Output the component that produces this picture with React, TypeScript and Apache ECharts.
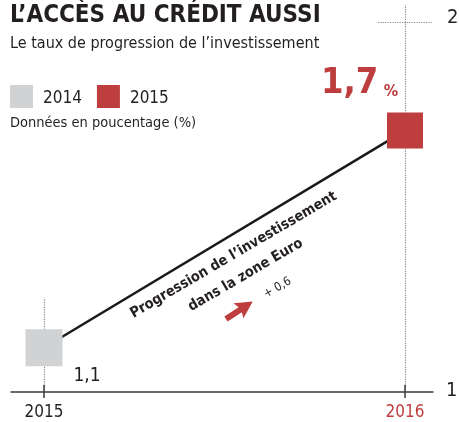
import React, { useEffect, useRef } from "react";
import * as echarts from "echarts";

const years = [2015, 2016];
const values = [1.1, 1.7];
const legendNames = ["2014", "2015"];
const yTicks = [1, 2];
const title = "L\u2019ACCÈS AU CRÉDIT AUSSI";
const subtitle = "Le taux de progression de l\u2019investissement";
const unitNote = "Données en poucentage (%)";
const annotLine1 = "Progression de l\u2019investissement";
const annotLine2 = "dans la zone Euro";
const changeLabel = "+ 0,6";

const FONT = "'Liberation Sans Narrow', 'DejaVu Sans Condensed', 'Roboto', sans-serif";
const RED = "#be3e3f";
const GRAY = "#d1d2d4";
const DARK = "#231f20";

const X_MIN = 2014.9086;
const X_MAX = 2016.0776;
const Y_MIN = 0.9776;
const Y_MAX = 2.047;

const fmt = (v: number) => v.toFixed(1).replace(".", ",");

export default function App() {
  const ref = useRef<HTMLDivElement>(null);
  useEffect(() => {
    if (!ref.current) return;
    const chart = echarts.init(ref.current, undefined, { renderer: "svg" });
    const dotted = { color: "#8a8a8a", type: "dotted", width: 1.2 } as any;
    const solid = { color: "#3a3a3a", type: "solid", width: 1.5 } as any;
    chart.setOption({
      animation: false,
      textStyle: { fontFamily: FONT },
      title: [
        {
          text: title,
          left: 10,
          top: 2,
          padding: 0,
          textStyle: { fontFamily: FONT, fontSize: 24, fontWeight: "bold", color: DARK },
        },
        {
          text: subtitle,
          left: 10,
          top: 34,
          padding: 0,
          textStyle: { fontFamily: FONT, fontSize: 16, fontWeight: "normal", color: DARK },
        },
        {
          text: unitNote,
          left: 10,
          top: 114,
          padding: 0,
          textStyle: { fontFamily: FONT, fontSize: 14.5, fontWeight: "normal", color: DARK },
        },
      ],
      legend: {
        data: legendNames,
        left: 10,
        top: 85,
        padding: 0,
        icon: "rect",
        itemWidth: 23,
        itemHeight: 23,
        itemGap: 15,
        textStyle: { fontFamily: FONT, fontSize: 17, color: DARK, padding: [2, 0, 0, 5] },
      },
      grid: { left: 11, right: 26, top: 5, bottom: 30, outerBoundsMode: "none", containLabel: false },
      xAxis: {
        type: "value",
        min: X_MIN,
        max: X_MAX,
        splitLine: { show: false },
        axisLine: { lineStyle: { color: "#3a3a3a", width: 1.5 } },
        axisTick: { customValues: years, length: 6, lineStyle: { color: "#3a3a3a", width: 1.5 } },
        axisLabel: {
          customValues: years,
          margin: 10,
          formatter: (v: number) => (v === years[years.length - 1] ? `{r|${v}}` : `{d|${v}}`),
          rich: {
            r: { fontFamily: FONT, fontSize: 17, color: RED },
            d: { fontFamily: FONT, fontSize: 17, color: DARK },
          },
        },
      },
      yAxis: {
        type: "value",
        position: "right",
        min: Y_MIN,
        max: Y_MAX,
        axisLine: { show: false },
        axisTick: { show: false },
        splitLine: { show: false },
        axisLabel: {
          customValues: yTicks,
          margin: 13,
          formatter: (v: number) => (v === yTicks[1] ? `{t|${v}}` : `{b|${v}}`),
          rich: {
            t: { fontFamily: FONT, fontSize: 20, color: DARK, padding: [0, 0, 12, 1] },
            b: { fontFamily: FONT, fontSize: 20, color: DARK, padding: [10, 0, 0, 0] },
          },
        },
      },
      series: [
        {
          type: "line",
          data: years.map((y, i) => [y, values[i]]),
          symbol: "none",
          lineStyle: { color: "#1a1a1a", width: 2.5 },
          z: 1,
          markLine: {
            silent: true,
            z: 1,
            symbol: ["none", "none"],
            label: { show: false },
            data: [
              [{ coord: [years[1], Y_MIN], lineStyle: dotted }, { coord: [years[1], Y_MAX] }],
              [{ coord: [years[0], Y_MIN], lineStyle: dotted }, { coord: [years[0], 1.237] }],
              [{ coord: [2015.925, yTicks[1]], lineStyle: dotted }, { coord: [2016.075, yTicks[1]] }],
              [{ coord: [years[0], Y_MIN], lineStyle: solid }, { coord: [years[0], 0.997] }],
              [{ coord: [years[1], Y_MIN], lineStyle: solid }, { coord: [years[1], 0.997] }],
            ],
          },
        },
        {
          type: "scatter",
          name: legendNames[0],
          data: [[years[0], values[0]]],
          symbol: "rect",
          symbolSize: 37,
          itemStyle: { color: GRAY, opacity: 1 },
          z: 3,
          label: {
            show: true,
            position: [48, 35],
            formatter: (p: any) => fmt(p.value[1]),
            fontFamily: FONT,
            fontSize: 19,
            color: DARK,
          },
        },
        {
          type: "scatter",
          name: legendNames[1],
          data: [[years[1], values[1]]],
          symbol: "rect",
          symbolSize: 36,
          itemStyle: { color: RED, opacity: 1 },
          z: 3,
          label: {
            show: true,
            position: [-66, -50],
            formatter: (p: any) => `{a|${fmt(p.value[1])}} {b|%}`,
            rich: {
              a: { fontFamily: FONT, fontSize: 36, fontWeight: "bold", color: RED, verticalAlign: "bottom" },
              b: { fontFamily: FONT, fontSize: 16, fontWeight: "bold", color: RED, verticalAlign: "bottom", padding: [0, 0, 0, 2] },
            },
          },
        },
      ],
      graphic: [
        {
          type: "text",
          x: 233,
          y: 254,
          rotation: 0.53,
          style: {
            text: annotLine1,
            fontFamily: FONT,
            fontSize: 14.5,
            fontWeight: "bold",
            fill: DARK,
            align: "center",
            verticalAlign: "middle",
          },
        },
        {
          type: "text",
          x: 245,
          y: 274,
          rotation: 0.53,
          style: {
            text: annotLine2,
            fontFamily: FONT,
            fontSize: 14.5,
            fontWeight: "bold",
            fill: DARK,
            align: "center",
            verticalAlign: "middle",
          },
        },
        {
          type: "text",
          x: 277,
          y: 287,
          rotation: 0.53,
          style: {
            text: changeLabel,
            fontFamily: FONT,
            fontSize: 12,
            fill: DARK,
            align: "center",
            verticalAlign: "middle",
          },
        },
        {
          type: "polygon",
          x: 226,
          y: 319,
          rotation: 0.58,
          shape: {
            points: [
              [0, -3],
              [17, -3],
              [15, -9],
              [32, 0],
              [15, 9],
              [17, 3],
              [0, 3],
            ],
          },
          style: { fill: RED },
        },
      ],
    } as any);
    return () => chart.dispose();
  }, []);
  return (
    <div
      ref={ref}
      style={{ position: "fixed", left: 0, top: 0, width: 459, height: 422 }}
    />
  );
}
